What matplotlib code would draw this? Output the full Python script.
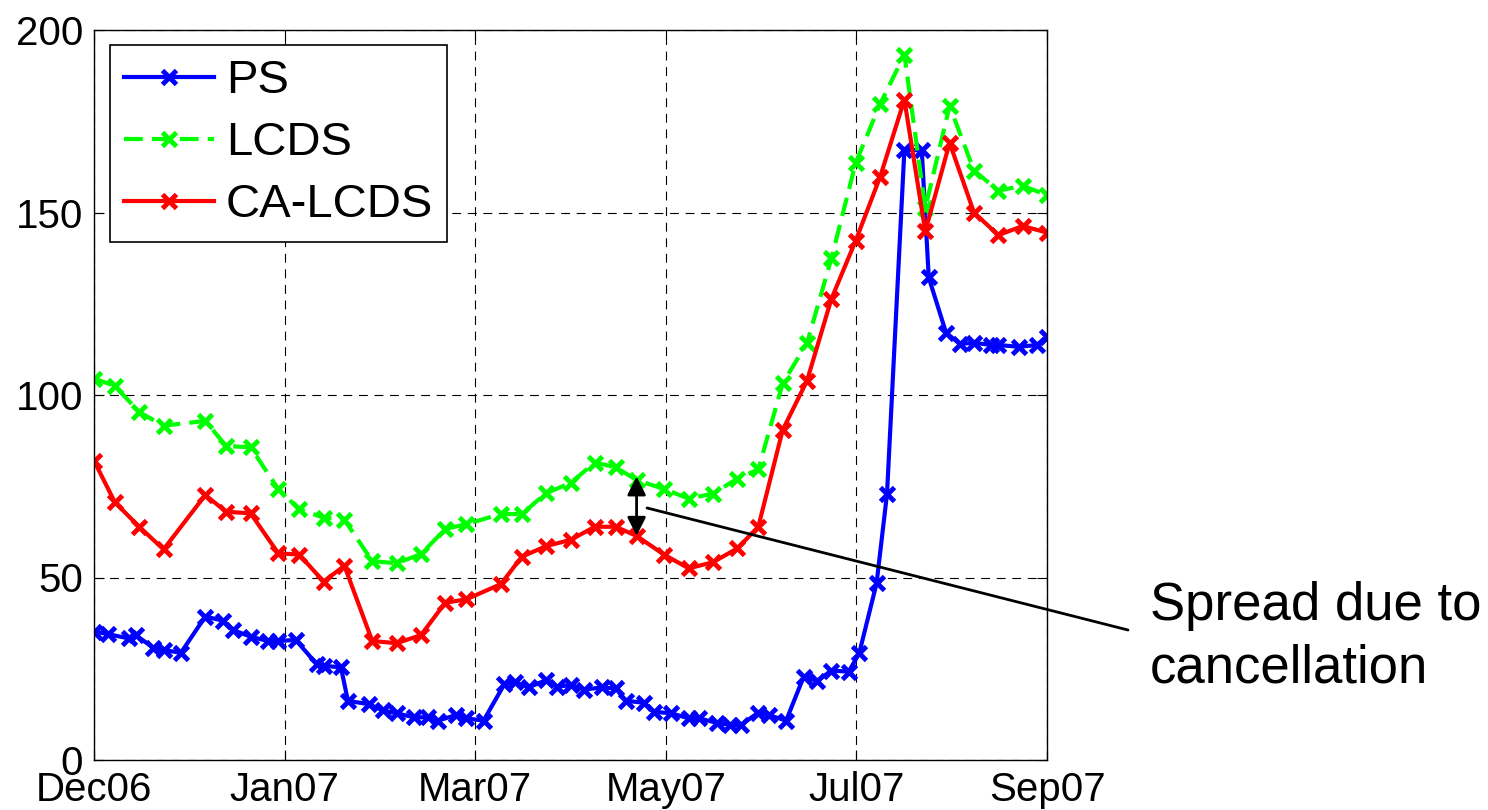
import numpy as np
import matplotlib
matplotlib.use("Agg")
import matplotlib.pyplot as plt

plt.rcParams['font.family'] = ['Liberation Sans', 'DejaVu Sans']

# days since start of Dec 2006
ps_days = [0, 4, 10, 12, 17, 20, 25, 32, 37, 40, 45, 50, 53, 58, 64, 66, 71, 73,
           79, 83, 87, 92, 96, 99, 104, 107, 112, 118, 121, 125, 130, 133, 137,
           141, 146, 150, 153, 158, 161, 166, 171, 174, 179, 183, 186, 191, 194,
           199, 204, 208, 212, 217, 220, 225, 228, 233, 238, 240, 245, 249, 253,
           258, 260, 266, 271, 274]
ps = [35.2, 34.5, 33.3, 34.2, 30.8, 30.1, 29.4, 39.3, 38.2, 35.6, 33.8, 32.6,
      32.6, 32.9, 26.3, 25.8, 25.4, 16.2, 15.3, 13.6, 12.8, 11.7, 11.7, 10.8,
      12.3, 11.4, 10.8, 20.8, 21.3, 19.9, 21.9, 20.1, 20.5, 19.3, 19.9, 19.6,
      16.2, 15.7, 13.2, 12.8, 11.4, 11.4, 10.2, 9.6, 9.6, 13.0, 12.3, 10.8,
      22.7, 21.7, 24.5, 24.2, 29.2, 48.4, 72.9, 167.2, 167.0, 132.2, 117.0,
      114.0, 114.3, 113.7, 113.7, 113.2, 113.7, 115.8]

week_days = [0, 6, 13, 20, 32, 38, 45, 53, 59, 66, 72, 80, 87, 94, 101, 107,
             117, 123, 130, 137, 144, 150, 156, 164, 171, 178, 185, 191, 198,
             205, 212, 219, 226, 233, 239, 246, 253, 260, 267, 274]
lcds = [104.5, 102.5, 95.3, 91.6, 92.9, 86.0, 85.7, 74.2, 68.7, 66.4, 65.8,
        54.5, 53.9, 56.4, 63.3, 64.6, 67.4, 67.4, 73.1, 75.9, 81.5, 80.2, 76.7,
        74.2, 71.6, 73.0, 77.1, 79.6, 103.2, 114.2, 137.4, 163.6, 179.7, 193.2,
        151.2, 179.2, 161.5, 156.0, 157.3, 154.8]
ca_lcds = [82.0, 70.6, 63.9, 57.7, 72.6, 68.0, 67.6, 56.6, 56.3, 48.9, 53.2,
           32.6, 32.0, 34.2, 43.1, 44.0, 48.2, 55.7, 58.6, 60.3, 63.9, 63.9,
           61.4, 56.2, 52.5, 54.2, 58.0, 63.9, 90.4, 103.9, 126.3, 142.3, 159.7,
           180.9, 144.8, 169.1, 150.0, 143.8, 146.3, 144.5]

tick_labels = ['Dec06', 'Jan07', 'Mar07', 'May07', 'Jul07', 'Sep07']
spread_idx = 22  # week where the spread is marked

fig = plt.figure(figsize=(14.88, 8.10), dpi=100)
ax = fig.add_axes([94 / 1488, 50 / 810, 953 / 1488, 730 / 810])

mk = dict(marker='x', markersize=10, markeredgewidth=3.5)
ax.plot(ps_days, ps, color='#0000ff', lw=3, label='PS', **mk)
ax.plot(week_days, lcds, color='#00ff00', lw=3, ls=(0, (4.5, 2.2)),
        label='LCDS', **mk)
ax.plot(week_days, ca_lcds, color='#ff0000', lw=3, label='CA-LCDS', **mk)

ax.set_xlim(0, 274)
ax.set_ylim(0, 200)
ax.set_xticks(np.linspace(0, 274, 6))
ax.set_xticklabels(tick_labels)
ax.set_yticks([0, 50, 100, 150, 200])
ax.tick_params(direction='in', length=7, width=0.8, labelsize=29,
               top=True, right=True)
ax.tick_params(axis='x', pad=8)
ax.tick_params(axis='y', pad=8)
ax.grid(True, color='k', lw=0.8, ls=(0, (8, 6)))
for s in ax.spines.values():
    s.set_linewidth(1)

leg = ax.legend(loc='upper left', bbox_to_anchor=(0.017, 0.979), fontsize=34,
                fancybox=False, framealpha=1, edgecolor='k', borderpad=0.3,
                handlelength=1.9, handletextpad=0.25, labelspacing=0.38,
                borderaxespad=0, numpoints=1)
leg.get_frame().set_linewidth(1.2)

# double arrow showing the spread between LCDS and CA-LCDS
xs = week_days[spread_idx]
ax.annotate('', xy=(xs, lcds[spread_idx] + 1), xytext=(xs, ca_lcds[spread_idx]),
            arrowprops=dict(arrowstyle='<|-|>', color='k', lw=2,
                            mutation_scale=28, shrinkA=0, shrinkB=0))
mid = (lcds[spread_idx] + ca_lcds[spread_idx]) / 2
ax.annotate('', xy=(xs + 3, mid), xytext=(1128 / 1488, 1 - 630 / 810),
            textcoords='figure fraction',
            arrowprops=dict(arrowstyle='-', color='k', lw=2,
                            shrinkA=0, shrinkB=0))
fig.text(1150 / 1488, 1 - 637 / 810, 'Spread due to\ncancellation',
         fontsize=38, ha='left', va='center', linespacing=1.33)

fig.savefig('out.png', dpi=100)
